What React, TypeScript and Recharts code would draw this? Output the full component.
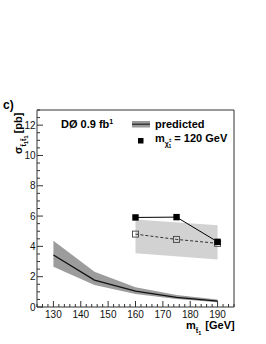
import React from "react";
import {
  ComposedChart,
  Area,
  Line,
  XAxis,
  YAxis,
  ReferenceLine,
  Customized,
} from "recharts";

// ---- data ----
const stopMasses = [130, 145, 160, 175, 190];
const predictedCentral = [3.43, 1.78, 1.05, 0.64, 0.39];
const predictedLow = [2.66, 1.45, 0.86, 0.53, 0.31];
const predictedHigh = [4.37, 2.33, 1.3, 0.79, 0.5];
const observedLimit = [null, null, 5.91, 5.93, 4.3];
const expectedLimit = [null, null, 4.81, 4.46, 4.2];
const expectedLow = [null, null, 3.54, null, 3.14];
const expectedHigh = [null, null, 5.78, null, 5.4];

const xMajorTicks = [130, 140, 150, 160, 170, 180, 190];
const xAllTicks = [
  124, 126, 128, 130, 132, 134, 136, 138, 140, 142, 144, 146, 148, 150, 152,
  154, 156, 158, 160, 162, 164, 166, 168, 170, 172, 174, 176, 178, 180, 182,
  184, 186, 188, 190, 192, 194, 196,
];
const yMajorTicks = [0, 2, 4, 6, 8, 10, 12];
const yAllTicks = [
  0, 0.5, 1, 1.5, 2, 2.5, 3, 3.5, 4, 4.5, 5, 5.5, 6, 6.5, 7, 7.5, 8, 8.5, 9,
  9.5, 10, 10.5, 11, 11.5, 12, 12.5, 13,
];

const data = stopMasses.map((m, i) => ({
  m,
  central: predictedCentral[i],
  band: [predictedLow[i], predictedHigh[i]],
  obs: observedLimit[i],
  exp: expectedLimit[i],
  expBand:
    expectedLow[i] != null ? [expectedLow[i], expectedHigh[i]] : null,
}));

const FONT = "'Liberation Sans', Arial, Helvetica, sans-serif";
const AXIS = "#333";

const XTick = (props: any) => {
  const { x, y, payload } = props;
  const v = payload.value;
  const major = xMajorTicks.includes(v);
  return (
    <g>
      <line x1={x} x2={x} y1={y} y2={y - (major ? 6 : 3)} stroke={AXIS} strokeWidth={1} />
      {major && (
        <text x={x} y={y + 10.5} textAnchor="middle" fontSize={10} fontFamily={FONT} fill="#111">
          {v}
        </text>
      )}
    </g>
  );
};

const YTick = (props: any) => {
  const { x, y, payload } = props;
  const v = payload.value;
  const major = yMajorTicks.includes(v);
  return (
    <g>
      <line x1={x} x2={x + (major ? 6 : 3)} y1={y} y2={y} stroke={AXIS} strokeWidth={1} />
      {major && (
        <text x={x - 1.5} y={y + 3.6} textAnchor="end" fontSize={10} fontFamily={FONT} fill="#111">
          {v}
        </text>
      )}
    </g>
  );
};

const OpenSquare = (props: any) => {
  const { cx, cy, value } = props;
  if (value == null || cx == null || cy == null) return <g />;
  return <rect x={cx - 3} y={cy - 3} width={6} height={6} fill="none" stroke="#444" strokeWidth={0.9} />;
};

const FilledSquare = (props: any) => {
  const { cx, cy, value } = props;
  if (value == null || cx == null || cy == null) return <g />;
  return <rect x={cx - 3.2} y={cy - 3.2} width={6.4} height={6.4} fill="#000" />;
};

const Annotations = () => (
  <g fontFamily={FONT} fontWeight="bold" fill="#000">
    <text x={3} y={109} fontSize={12}>c)</text>
    {/* y-axis title */}
    <text transform="translate(22,154) rotate(-90)" fontSize={11}>
      <tspan>σ</tspan>
      <tspan dy={4} fontSize={7.5}>t̃</tspan>
      <tspan dy={1.5} fontSize={5.5}>1</tspan>
      <tspan dy={-1.5} fontSize={7.5}>t̃</tspan>
      <tspan dy={1.5} fontSize={5.5}>1</tspan>
      <tspan dy={-5.5} dx={2}>[pb]</tspan>
    </text>
    {/* x-axis title */}
    <text x={186} y={329} fontSize={11}>
      <tspan>m</tspan>
      <tspan dy={4} fontSize={7.5}>t̃</tspan>
      <tspan dy={1.5} fontSize={5.5}>1</tspan>
      <tspan dy={-5.5} dx={4}>[GeV]</tspan>
    </text>
    {/* experiment label */}
    <text x={61} y={128} fontSize={11}>
      <tspan>DØ 0.9 fb</tspan>
      <tspan dy={-4} fontSize={7}>1</tspan>
    </text>
    {/* legend */}
    <rect x={132} y={121} width={18} height={6.5} fill="#999" />
    <line x1={132} x2={150} y1={124.2} y2={124.2} stroke="#222" strokeWidth={1.2} />
    <text x={155} y={128} fontSize={11}>predicted</text>
    <rect x={138} y={138} width={5.5} height={5.5} fill="#000" />
    <text x={155} y={142} fontSize={11}>
      <tspan>m</tspan>
      <tspan dy={4} fontSize={7}>χ</tspan>
      <tspan dy={-4} fontSize={5}>±</tspan>
      <tspan dy={6} dx={-3} fontSize={5}>1</tspan>
      <tspan dy={-6} dx={3}>= 120 GeV</tspan>
    </text>
  </g>
);

export default function App() {
  return (
    <div style={{ position: "absolute", left: 0, top: 0, width: 266, height: 344, background: "#fff" }}>
      <ComposedChart
        width={266}
        height={344}
        data={data}
        margin={{ top: 110, right: 32, left: 0, bottom: 0 }}
      >
        <XAxis
          dataKey="m"
          type="number"
          domain={[124, 196]}
          ticks={xAllTicks}
          interval={0}
          allowDataOverflow
          height={37}
          tickSize={0}
          tickMargin={0}
          tickLine={false}
          axisLine={{ stroke: AXIS, strokeWidth: 1 }}
          tick={<XTick />}
        />
        <YAxis
          type="number"
          domain={[0, 13]}
          ticks={yAllTicks}
          interval={0}
          allowDataOverflow
          width={37}
          tickSize={0}
          tickMargin={0}
          tickLine={false}
          axisLine={{ stroke: AXIS, strokeWidth: 1 }}
          tick={<YTick />}
        />
        <ReferenceLine y={13} stroke={AXIS} strokeWidth={1} ifOverflow="visible" />
        <ReferenceLine x={196} stroke={AXIS} strokeWidth={1} ifOverflow="visible" />
        <Area
          dataKey="expBand"
          stroke="none"
          fill="#d2d2d2"
          fillOpacity={1}
          connectNulls
          isAnimationActive={false}
          dot={false}
          activeDot={false}
        />
        <Area
          dataKey="band"
          stroke="none"
          fill="#9c9c9c"
          fillOpacity={1}
          isAnimationActive={false}
          dot={false}
          activeDot={false}
        />
        <Line
          dataKey="central"
          stroke="#111"
          strokeWidth={1.3}
          dot={false}
          activeDot={false}
          isAnimationActive={false}
        />
        <Line
          dataKey="exp"
          stroke="#333"
          strokeWidth={1}
          strokeDasharray="3 2"
          dot={<OpenSquare />}
          activeDot={false}
          isAnimationActive={false}
        />
        <Line
          dataKey="obs"
          stroke="#000"
          strokeWidth={1}
          dot={<FilledSquare />}
          activeDot={false}
          isAnimationActive={false}
        />
        <Customized component={Annotations} />
      </ComposedChart>
    </div>
  );
}
